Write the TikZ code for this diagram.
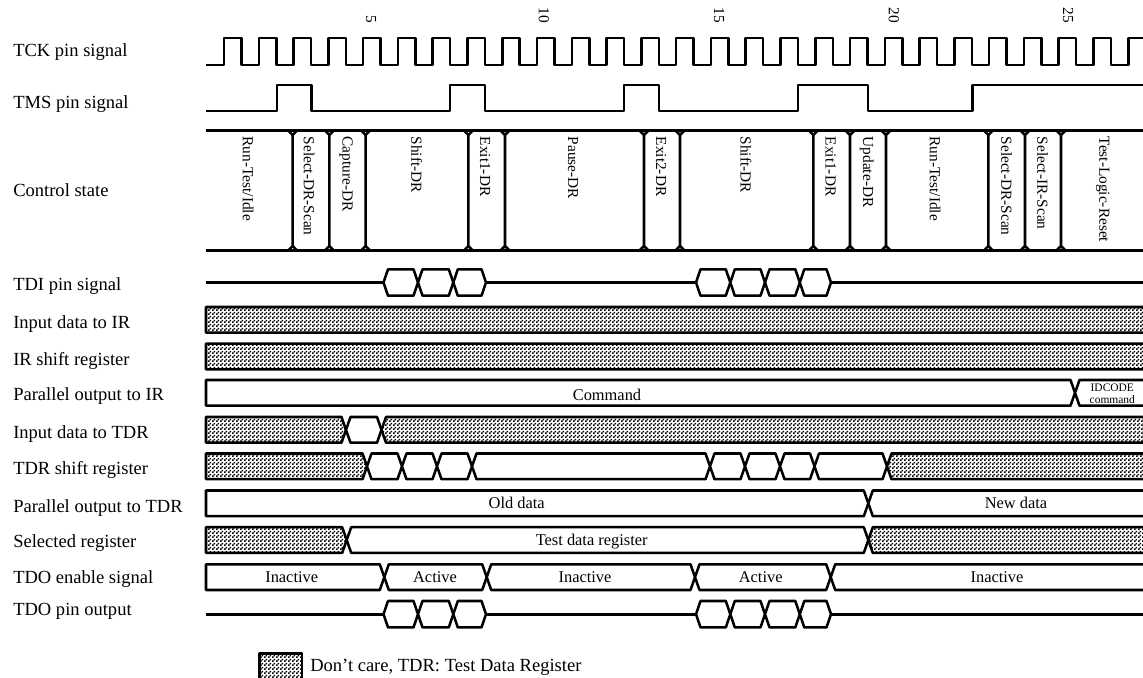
\documentclass[tikz,border=0pt]{standalone}
\usepackage{fontspec}
\setmainfont{Liberation Serif}
\usetikzlibrary{patterns}
\pgfdeclarepatternformonly{dontcareDots}{\pgfqpoint{0pt}{0pt}}{\pgfqpoint{2.6pt}{2.6pt}}{\pgfqpoint{2.6pt}{2.6pt}}{%
  \pgfpathrectangle{\pgfqpoint{0pt}{0pt}}{\pgfqpoint{1.3pt}{1.3pt}}%
  \pgfpathrectangle{\pgfqpoint{1.3pt}{1.3pt}}{\pgfqpoint{1.3pt}{1.3pt}}%
  \pgfusepath{fill}}
\tikzset{
  sig/.style={line width=1.9pt,line join=round},
  buswhite/.style={sig,draw=black,fill=white},
  busgray/.style={sig,draw=black,pattern=dontcareDots,pattern color=black},
  rowlabel/.style={anchor=base west,inner sep=0pt,font=\fontsize{13.9}{16}\selectfont},
  inlabel/.style={anchor=base,inner sep=0pt,font=\fontsize{12.3}{14}\selectfont},
  tinylabel/.style={anchor=base,inner sep=0pt,font=\fontsize{8.6}{10}\selectfont},
  statelabel/.style={anchor=west,rotate=-90,inner sep=0pt,font=\fontsize{11.5}{13}\selectfont},
  ticklabel/.style={anchor=east,rotate=-90,inner sep=0pt,font=\fontsize{11.5}{13}\selectfont},
}
% one bus segment: style, left x, left slant, right x, top y
\newcommand\busseg[5]{\draw[#1] ({#2+#3},#5) -- ({#4-4.5},#5) -- (#4,{#5+12.85}) -- ({#4-4.5},{#5+25.7}) -- ({#2+#3},{#5+25.7}) -- (#2,{#5+12.85}) -- cycle;}
% one hexagon on a single line row
\newcommand\hexchain[2]{\foreach \a/\b in {#2}{\draw[buswhite] ({\a+4.5},#1) -- ({\b-4.5},#1) -- (\b,{#1+13.2}) -- ({\b-4.5},{#1+26.4}) -- ({\a+4.5},{#1+26.4}) -- (\a,{#1+13.2}) -- cycle;}}
\newcommand\statecross[1]{\draw[sig] ({#1-4.5},130.5) -- (#1,135) -- ({#1+4.5},130.5) (#1,135) -- (#1,246) ({#1-4.5},250.5) -- (#1,246) -- ({#1+4.5},250.5);}
\begin{document}
\begin{tikzpicture}[x=0.75pt,y=-0.75pt]
\useasboundingbox (0,0) rectangle (1143,678);
\clip (0,0) rectangle (1143,678);
% tick numbers
\node[ticklabel] (t5) at (371,23) {5};
\node[ticklabel] (t10) at (544,23) {10};
\node[ticklabel] (t15) at (719,23) {15};
\node[ticklabel] (t20) at (894,23) {20};
\node[ticklabel] (t25) at (1068,23) {25};
% row labels
\node[rowlabel] (lTCK) at (13,56) {TCK pin signal};
\node[rowlabel] (lTMS) at (13,108.5) {TMS pin signal};
\node[rowlabel] (lCTL) at (13,196.5) {Control state};
\node[rowlabel] (lTDI) at (13,290.5) {TDI pin signal};
\node[rowlabel] (lIIR) at (13,328) {Input data to IR};
\node[rowlabel] (lSIR) at (13,365.5) {IR shift register};
\node[rowlabel] (lPIR) at (13,400.5) {Parallel output to IR};
\node[rowlabel] (lITD) at (13,438) {Input data to TDR};
\node[rowlabel] (lSTD) at (13,474) {TDR shift register};
\node[rowlabel] (lPTD) at (13,512) {Parallel output to TDR};
\node[rowlabel] (lSEL) at (13,547) {Selected register};
\node[rowlabel] (lENA) at (13,583) {TDO enable signal};
\node[rowlabel] (lTDO) at (13,615.5) {TDO pin output};
% TCK
\draw[sig] (206,65) foreach \k in {0,...,26}{ -- ({224+34.78*\k},65) -- ({224+34.78*\k},38) -- ({241.5+34.78*\k},38) -- ({241.5+34.78*\k},65)};
% TMS
\draw[sig] (206,111) -- (277,111) -- (277,85) -- (311.5,85) -- (311.5,111) -- (450,111) -- (450,85) -- (485,85) -- (485,111) -- (624,111) -- (624,85) -- (659,85) -- (659,111) -- (798,111) -- (798,85) -- (868,85) -- (868,111) -- (972.5,111) -- (972.5,85) -- (1150,85);
% Control state
\draw[sig] (206,130.5) -- (1150,130.5) (206,250.5) -- (1150,250.5);
\foreach \x in {292.7,329.3,365.7,468.3,505,644,680,813.3,850,886,988.3,1025,1061}{\statecross{\x}}
\node[statelabel] (s1) at (248,136.5) {Run-Test/Idle};
\node[statelabel] (s2) at (309,136.5) {Select-DR-Scan};
\node[statelabel] (s3) at (346,136.5) {Capture-DR};
\node[statelabel] (s4) at (416.7,136.5) {Shift-DR};
\node[statelabel] (s5) at (485,136.5) {Exit1-DR};
\node[statelabel] (s6) at (573,136.5) {Pause-DR};
\node[statelabel] (s7) at (661,136.5) {Exit2-DR};
\node[statelabel] (s8) at (746,136.5) {Shift-DR};
\node[statelabel] (s9) at (830.7,136.5) {Exit1-DR};
\node[statelabel] (s10) at (866.7,136.5) {Update-DR};
\node[statelabel] (s11) at (935,136.5) {Run-Test/Idle};
\node[statelabel] (s12) at (1006.7,136.5) {Select-DR-Scan};
\node[statelabel] (s13) at (1042.7,136.5) {Select-IR-Scan};
\node[statelabel] (s14) at (1102.7,136.5) {Test-Logic-Reset};
% TDI
\draw[sig] (206,282.5) -- (383.5,282.5) (486,282.5) -- (696,282.5) (831,282.5) -- (1150,282.5);
\hexchain{269.3}{383.5/418,418/453.3,453.3/486,696/730.3,730.3/765,765/799.8,799.8/831}
% Input data to IR, IR shift register
\busseg{busgray}{206}{0}{1160}{307}
\busseg{busgray}{206}{0}{1160}{343.7}
% Parallel output to IR
\busseg{buswhite}{206}{0}{1075}{380}
\busseg{buswhite}{1075}{4.5}{1160}{380}
\node[inlabel] (cmd) at (607,400) {Command};
\node[tinylabel] (id1) at (1112.3,391.7) {IDCODE};
\node[tinylabel] (id2) at (1112.3,403.3) {command};
% Input data to TDR
\busseg{busgray}{206}{0}{346}{417}
\busseg{buswhite}{346}{4.5}{381.5}{417}
\busseg{busgray}{381.5}{4.5}{1160}{417}
% TDR shift register
\busseg{busgray}{206}{0}{367}{453.5}
\foreach \a/\b in {367/402,402/437,437/472,472/710,710/745,745/780,780/814.5,814.5/887}{\busseg{buswhite}{\a}{4.5}{\b}{453.5}}
\busseg{busgray}{887}{4.5}{1160}{453.5}
% Parallel output to TDR
\busseg{buswhite}{206}{0}{868.3}{490.5}
\busseg{buswhite}{868.3}{4.5}{1160}{490.5}
\node[inlabel] (old) at (516.7,508) {Old data};
\node[inlabel] (new) at (1016,508) {New data};
% Selected register
\busseg{busgray}{206}{0}{346.7}{527.2}
\busseg{buswhite}{346.7}{4.5}{868.3}{527.2}
\busseg{busgray}{868.3}{4.5}{1160}{527.2}
\node[inlabel] (tdr) at (591.7,545.7) {Test data register};
% TDO enable
\busseg{buswhite}{206}{0}{384.3}{564.3}
\foreach \a/\b in {384.3/486.7,486.7/695,695/830.7,830.7/1160}{\busseg{buswhite}{\a}{4.5}{\b}{564.3}}
\node[inlabel] (in1) at (291.7,582) {Inactive};
\node[inlabel] (ac1) at (435,582) {Active};
\node[inlabel] (in2) at (585,582) {Inactive};
\node[inlabel] (ac2) at (760.7,582) {Active};
\node[inlabel] (in3) at (997,582) {Inactive};
% TDO pin
\draw[sig] (206,614.3) -- (383.5,614.3) (486,614.3) -- (696,614.3) (831,614.3) -- (1150,614.3);
\hexchain{601}{383.5/418,418/453.3,453.3/486,696/730.3,730.3/765,765/799.8,799.8/831}
% Legend
\draw[busgray] (259.5,653.5) rectangle (302,679);
\node[rowlabel] (leg) at (310,671.7) {Don't care, TDR: Test Data Register};
\end{tikzpicture}
\end{document}
